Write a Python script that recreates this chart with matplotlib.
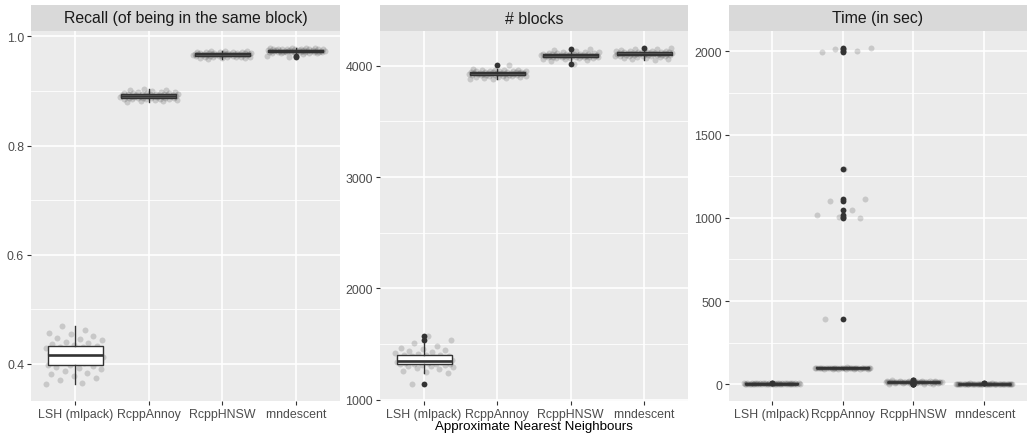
import numpy as np
import matplotlib
matplotlib.use("Agg")
import matplotlib.pyplot as plt

# ---------------- data ----------------
methods = ["LSH (mlpack)", "RcppAnnoy", "RcppHNSW", "rnndescent"]
panel_titles = ["Recall (of being in the same block)", "# blocks", "Time (in sec)"]
x_title = "Approximate Nearest Neighbours"

recall_lsh = [0.363, 0.366, 0.370, 0.374, 0.378, 0.381, 0.384, 0.387, 0.390, 0.392, 0.394, 0.396,
              0.398, 0.399, 0.401, 0.403, 0.404, 0.406, 0.407, 0.409, 0.410, 0.412, 0.413, 0.415, 0.416,
              0.417, 0.418, 0.419, 0.421, 0.422, 0.424, 0.425, 0.427, 0.428, 0.430, 0.431, 0.432, 0.433,
              0.435, 0.437, 0.438, 0.441, 0.443, 0.445, 0.448, 0.451, 0.454, 0.457, 0.462, 0.470]
recall_annoy = [0.879, 0.881, 0.882, 0.883, 0.884, 0.885, 0.885, 0.886, 0.886, 0.886, 0.887, 0.887, 0.887,
                0.888, 0.888, 0.888, 0.889, 0.889, 0.889, 0.890, 0.890, 0.890, 0.890, 0.891, 0.891,
                0.891, 0.891, 0.892, 0.892, 0.892, 0.893, 0.893, 0.893, 0.894, 0.894, 0.894, 0.895, 0.895,
                0.895, 0.896, 0.896, 0.897, 0.897, 0.898, 0.899, 0.899, 0.900, 0.901, 0.902, 0.904]
recall_hnsw = [0.959, 0.960, 0.961, 0.961, 0.962, 0.962, 0.963, 0.963, 0.963, 0.963, 0.964, 0.964, 0.964,
               0.964, 0.965, 0.965, 0.965, 0.965, 0.966, 0.966, 0.966, 0.966, 0.966, 0.966, 0.967,
               0.967, 0.967, 0.967, 0.967, 0.968, 0.968, 0.968, 0.968, 0.968, 0.969, 0.969, 0.969, 0.969,
               0.969, 0.970, 0.970, 0.970, 0.971, 0.971, 0.971, 0.972, 0.972, 0.973, 0.973, 0.974]
recall_rnn = [0.963, 0.964, 0.968, 0.969, 0.969, 0.970, 0.970, 0.970, 0.971, 0.971, 0.971, 0.971, 0.971,
              0.972, 0.972, 0.972, 0.972, 0.972, 0.973, 0.973, 0.973, 0.973, 0.973, 0.973, 0.973,
              0.974, 0.974, 0.974, 0.974, 0.974, 0.974, 0.975, 0.975, 0.975, 0.975, 0.975, 0.975, 0.976,
              0.976, 0.976, 0.976, 0.976, 0.977, 0.977, 0.977, 0.977, 0.978, 0.978, 0.978, 0.979]

blocks_lsh = [1141, 1245, 1252, 1262, 1275, 1286, 1295, 1302, 1308, 1312, 1315, 1318, 1320,
              1322, 1326, 1330, 1334, 1337, 1340, 1343, 1345, 1347, 1349, 1351, 1352,
              1354, 1357, 1360, 1364, 1368, 1372, 1376, 1380, 1385, 1390, 1395, 1400, 1403,
              1406, 1412, 1420, 1428, 1436, 1445, 1456, 1470, 1485, 1510, 1539, 1575]
blocks_annoy = [3876, 3882, 3887, 3891, 3895, 3898, 3901, 3904, 3906, 3908, 3910, 3912, 3913,
                3915, 3917, 3918, 3920, 3921, 3922, 3924, 3925, 3926, 3927, 3928, 3929,
                3930, 3931, 3932, 3933, 3935, 3936, 3937, 3938, 3940, 3941, 3942, 3943, 3944,
                3946, 3948, 3950, 3952, 3954, 3956, 3958, 3960, 3962, 3965, 3970, 4005]
blocks_hnsw = [4019, 4045, 4052, 4058, 4062, 4066, 4068, 4070, 4072, 4074, 4075, 4076, 4077,
               4079, 4080, 4081, 4083, 4084, 4085, 4086, 4087, 4088, 4089, 4090, 4091,
               4092, 4093, 4094, 4095, 4096, 4097, 4098, 4099, 4100, 4101, 4102, 4103, 4104,
               4106, 4108, 4110, 4112, 4114, 4117, 4120, 4123, 4126, 4130, 4136, 4148]
blocks_rnn = [4052, 4058, 4064, 4069, 4073, 4077, 4080, 4083, 4085, 4087, 4089, 4090, 4091,
              4093, 4094, 4096, 4097, 4098, 4100, 4101, 4102, 4103, 4104, 4105, 4106,
              4107, 4108, 4109, 4110, 4111, 4112, 4113, 4114, 4115, 4116, 4117, 4118, 4119,
              4121, 4123, 4125, 4127, 4129, 4132, 4135, 4138, 4142, 4146, 4152, 4160]

time_lsh = [2.8, 3.0, 3.2, 3.4, 3.5, 3.6, 3.7, 3.8, 3.8, 3.9, 3.9, 4.0, 4.0,
            4.1, 4.1, 4.2, 4.3, 4.3, 4.4, 4.5, 4.5, 4.6, 4.6, 4.7, 4.7,
            4.8, 4.8, 4.9, 4.9, 5.0, 5.0, 5.1, 5.2, 5.2, 5.3, 5.4, 5.5, 5.5,
            5.6, 5.7, 5.8, 5.9, 6.0, 6.2, 6.4, 6.6, 6.9, 7.3, 9.5, 11.0]
time_annoy = [91.0, 92.0, 93.0, 93.5, 94.0, 94.5, 95.0, 95.3, 95.6, 95.8, 96.0, 96.2, 96.4,
              96.6, 96.8, 97.0, 97.2, 97.4, 97.6, 97.8, 98.0, 98.1, 98.2, 98.3, 98.4,
              98.5, 98.6, 98.8, 99.0, 99.2, 99.4, 99.6, 99.8, 100.0, 100.3, 100.6, 101.0, 101.5,
              392, 998, 1005, 1018, 1048, 1100, 1113, 1291, 1996, 2004, 2012, 2021]
time_hnsw = [1.0, 2.0, 3.5, 4.5, 7.5, 9.0, 10.0, 10.5, 11.0, 11.3, 11.6, 11.8, 12.0,
             12.2, 12.4, 12.6, 12.8, 13.0, 13.2, 13.4, 13.6, 13.7, 13.8, 13.9, 14.0,
             14.1, 14.2, 14.3, 14.5, 14.7, 14.9, 15.1, 15.3, 15.5, 15.7, 15.9, 16.0, 16.1,
             16.3, 16.5, 16.8, 17.1, 17.4, 17.8, 18.3, 19.0, 20.0, 21.0, 24.5, 27.0]
time_rnn = [1.8, 2.0, 2.1, 2.2, 2.3, 2.35, 2.4, 2.42, 2.45, 2.47, 2.5, 2.5, 2.52,
            2.55, 2.6, 2.65, 2.7, 2.75, 2.8, 2.85, 2.9, 2.92, 2.95, 2.97, 3.0,
            3.0, 3.05, 3.1, 3.15, 3.2, 3.25, 3.3, 3.35, 3.4, 3.42, 3.45, 3.48, 3.5,
            3.55, 3.6, 3.65, 3.7, 3.8, 3.9, 4.0, 4.1, 4.3, 4.6, 5.2, 5.8]

recall = [recall_lsh, recall_annoy, recall_hnsw, recall_rnn]
blocks = [blocks_lsh, blocks_annoy, blocks_hnsw, blocks_rnn]
times = [time_lsh, time_annoy, time_hnsw, time_rnn]

recall_ticks = [0.4, 0.6, 0.8, 1.0]
blocks_ticks = [1000, 2000, 3000, 4000]
time_ticks = [0, 500, 1000, 1500, 2000]

# ---------------- style ----------------
plt.rcParams['font.family'] = ['Liberation Sans', 'DejaVu Sans']
W, H = 1032, 435
fig = plt.figure(figsize=(W / 100, H / 100), dpi=100)
fig.patch.set_facecolor('white')

panel_px = [(31, 340), (380, 688), (729, 1027)]
top_px, bot_px, strip_top_px = 32, 402, 6

panels = [
    (recall, recall_ticks, lambda v: f"{v:.1f}"),
    (blocks, blocks_ticks, lambda v: f"{int(v)}"),
    (times, time_ticks, lambda v: f"{int(v)}"),
]

def jitter_offsets(n, phase):
    # deterministic, evenly spread horizontal jitter (width 0.4 like geom_jitter)
    return np.array([((i * 0.6180339887 + phase) % 1.0) * 0.8 - 0.4 for i in range(n)])

for k, ((series, ticks, fmt), (l, r)) in enumerate(zip(panels, panel_px)):
    ax = fig.add_axes([l / W, 1 - bot_px / H, (r - l) / W, (bot_px - top_px) / H])
    ax.set_facecolor('#EBEBEB')
    for s in ax.spines.values():
        s.set_visible(False)

    # jittered points
    for j, vals in enumerate(series):
        vals = np.asarray(vals, float)
        xs = (j + 1) + jitter_offsets(len(vals), 0.13 * j + 0.29 * k)
        ax.plot(xs, vals, 'o', color='black', alpha=0.15, markersize=4.3,
                markeredgewidth=0, zorder=2)

    # boxplots
    ax.boxplot([np.asarray(v, float) for v in series], positions=[1, 2, 3, 4], widths=0.75,
               patch_artist=True, showcaps=False, whis=1.5, manage_ticks=False,
               boxprops=dict(facecolor='white', edgecolor='#333333', linewidth=1.0),
               medianprops=dict(color='#333333', linewidth=1.9),
               whiskerprops=dict(color='#333333', linewidth=1.0),
               flierprops=dict(marker='o', markerfacecolor='#333333', markeredgecolor='none',
                               markersize=4.2),
               zorder=3)

    allv = np.concatenate([np.asarray(s, float) for s in series])
    lo, hi = allv.min(), allv.max()
    pad = 0.05 * (hi - lo)
    ax.set_xlim(0.4, 4.6)

    # grid / ticks
    ax.set_yticks(ticks)
    step = ticks[1] - ticks[0]
    minors = [t + step / 2 for t in [ticks[0] - step] + list(ticks)]
    ax.set_yticks(minors, minor=True)
    ax.set_xticks([1, 2, 3, 4])
    ax.set_xticklabels(methods)
    ax.set_yticklabels([fmt(t) for t in ticks])
    ax.set_ylim(lo - pad, hi + pad)
    ax.grid(True, which='major', color='white', linewidth=1.2, zorder=0)
    ax.grid(True, which='minor', axis='y', color='white', linewidth=0.6, zorder=0)
    ax.set_axisbelow(True)
    ax.tick_params(axis='both', which='major', colors='#333333', length=3, width=0.8,
                   labelsize=8.9, labelcolor='#4D4D4D', pad=2)
    ax.tick_params(axis='both', which='minor', length=0)

    # strip
    sax = fig.add_axes([l / W, 1 - top_px / H, (r - l) / W, (top_px - strip_top_px) / H])
    sax.set_facecolor('#D9D9D9')
    sax.set_xticks([]); sax.set_yticks([])
    for s in sax.spines.values():
        s.set_visible(False)
    sax.text(0.5, 0.5, panel_titles[k], ha='center', va='center', fontsize=11.4,
             color='#1A1A1A', transform=sax.transAxes)

fig.text(534 / W, 1 - 427 / H, x_title, ha='center', va='center', fontsize=9.6, color='black')

fig.savefig('out.png', dpi=100, facecolor='white')
